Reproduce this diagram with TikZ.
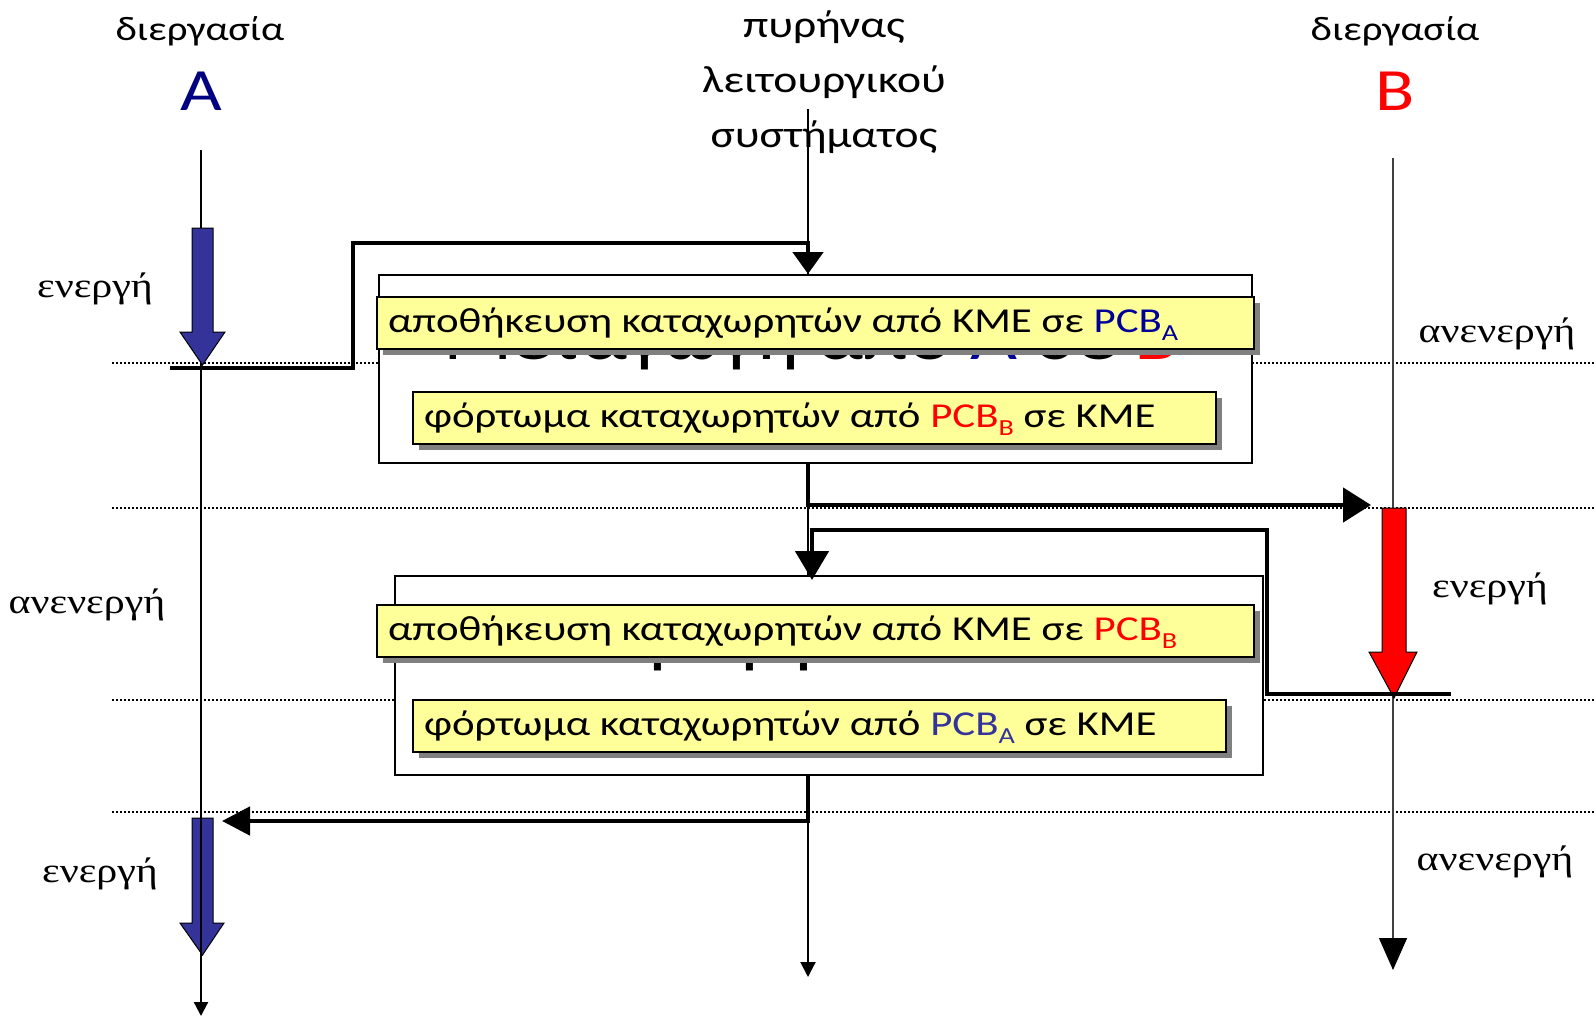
\documentclass[tikz,border=0pt]{standalone}
\usepackage{fontspec}
\usepackage{graphicx}
\setmainfont{Carlito}
\newfontfamily\tnr{Liberation Serif}
\usetikzlibrary{arrows.meta,shadows}
\definecolor{ylw}{HTML}{FFFF99}
\definecolor{navyA}{HTML}{000099}
\definecolor{hdrA}{HTML}{000080}
\definecolor{pcbAlt}{HTML}{333399}
\definecolor{arrblue}{HTML}{333399}
\definecolor{shgray}{HTML}{808080}
\definecolor{bline}{HTML}{404040}
\newcommand{\hs}[1]{\scalebox{1.2}[1]{#1}}
\newcommand{\hsb}[1]{\scalebox{1.225}[1]{#1}}
\newcommand{\hsh}[1]{\scalebox{1.25}[1]{#1}}
\newcommand{\mysub}[1]{\raisebox{-4pt}{\fontsize{11.5pt}{12pt}\selectfont #1}}
\tikzset{
  hdr/.style={font=\fontsize{17pt}{20pt}\selectfont, inner sep=0pt, anchor=base},
  khdr/.style={font=\fontsize{19pt}{22pt}\selectfont, inner sep=0pt, anchor=base},
  bigl/.style={font=\fontsize{30pt}{36pt}\selectfont, inner sep=0pt, anchor=base},
  lbl/.style={font=\tnr\fontsize{17.5pt}{20pt}\selectfont, inner sep=0pt, anchor=base},
  tl/.style={line width=1.1pt},
  dots/.style={line width=0.6pt, dash pattern=on 0.8pt off 1.2pt},
  outerbox/.style={draw, fill=white, line width=0.9pt, inner sep=0pt, anchor=north west},
  ybox/.style={draw, fill=ylw, line width=1.1pt, inner xsep=5.5pt, inner ysep=0pt,
    text height=17.5pt, text depth=8.5pt, anchor=north west,
    font=\fontsize{17.5pt}{20pt}\selectfont,
    drop shadow={shadow xshift=3pt, shadow yshift=-3pt, fill=shgray, opacity=1}},
  hid/.style={font=\fontsize{32.5pt}{36pt}\selectfont, inner sep=0pt, anchor=base},
  conn/.style={line width=2.4pt},
  blockarr/.style={draw=black, line width=0.5pt}
}
\begin{document}
\begin{tikzpicture}[x=0.5pt,y=-0.5pt]
\useasboundingbox (0,0) rectangle (1594,1017);

% headers
\node[hdr] (hA) at (200,40) {\hs{διεργασία}};
\node[bigl, text=hdrA] (lA) at (201,110) {\hs{A}};
\node[khdr] (hK1) at (824,37) {\hs{πυρήνας}};
\node[khdr] (hK2) at (824,92) {\hs{λειτουργικού}};
\node[khdr] (hK3) at (824,147) {\hs{συστήματος}};
\node[hdr] (hB) at (1395,40) {\hs{διεργασία}};
\node[bigl, text=red] (lB) at (1395,110) {\hs{B}};

% state labels
\node[lbl] (s1) at (95,297) {\hs{ενεργή}};
\node[lbl] (s2) at (87,613) {\hs{ανενεργή}};
\node[lbl] (s3) at (100,882) {\hs{ενεργή}};
\node[lbl] (s4) at (1497,342) {\hs{ανενεργή}};
\node[lbl] (s5) at (1490,597) {\hs{ενεργή}};
\node[lbl] (s6) at (1495,870) {\hs{ανενεργή}};

% dotted level lines
\coordinate (dl1) at (112,363); \coordinate (dr1) at (1594,363);
\coordinate (dl2) at (112,508); \coordinate (dr2) at (1594,508);
\coordinate (dl3) at (112,700); \coordinate (dr3) at (1594,700);
\coordinate (dl4) at (112,812); \coordinate (dr4) at (1594,812);
\draw[dots] (dl1) -- (dr1);
\draw[dots] (dl2) -- (dr2);
\draw[dots] (dl3) -- (dr3);
\draw[dots] (dl4) -- (dr4);

% second blue block arrow (under the timeline)
\filldraw[blockarr, fill=arrblue] (192,818) -- (213,818) -- (213,923) -- (224,923) -- (202.5,955) -- (180,923) -- (192,923) -- cycle;

% timelines
\coordinate (Atop) at (201,150); \coordinate (Abot) at (201,1016);
\coordinate (Ktop) at (808,109); \coordinate (Kbot) at (808,977);
\coordinate (Btop) at (1393,158); \coordinate (Bbot) at (1393,970);
\draw[tl, -{Triangle[length=7pt,width=7pt]}] (Atop) -- (Abot);
\draw[line width=1pt, -{Triangle[length=7.5pt,width=7.5pt]}] (Ktop) -- (Kbot);
\draw[line width=0.7pt, draw=bline, -{Triangle[length=16pt,width=14pt,black]}] (Btop) -- (Bbot);

% first blue block arrow and red block arrow
\filldraw[blockarr, fill=arrblue] (192,228) -- (213,228) -- (213,332) -- (225,332) -- (202.5,365) -- (180,332) -- (192,332) -- cycle;
\filldraw[blockarr, fill=red] (1382,508) -- (1406,508) -- (1406,652) -- (1417,652) -- (1394,698) -- (1369,652) -- (1382,652) -- cycle;

% outer kernel boxes
\node[outerbox, minimum width=436.5pt, minimum height=94pt] (K1) at (378,274) {};
\node[hid] (H1) at (811,359) {\hsh{Μεταγωγή από \textcolor{navyA}{A} σε \textcolor{red}{B}}};
\node[outerbox, minimum width=434pt, minimum height=99.5pt] (K2) at (394,575) {};
\node[hid] (H2) at (824,660) {\hsh{Μεταγωγή από \textcolor{red}{B} σε \textcolor{navyA}{A}}};

% yellow boxes
\node[ybox] (Y1) at (376,296) {\makebox[427.5pt][l]{\hsb{αποθήκευση καταχωρητών από ΚΜΕ σε \textcolor{navyA}{PCB\mysub{A}}}}};
\node[ybox] (Y2) at (412,391) {\makebox[390.5pt][l]{\hsb{φόρτωμα καταχωρητών από \textcolor{red}{PCB\mysub{B}} σε ΚΜΕ}}};
\node[ybox] (Y3) at (376,604) {\makebox[427.5pt][l]{\hsb{αποθήκευση καταχωρητών από ΚΜΕ σε \textcolor{red}{PCB\mysub{B}}}}};
\node[ybox] (Y4) at (412,699) {\makebox[395.5pt][l]{\hsb{φόρτωμα καταχωρητών από \textcolor{pcbAlt}{PCB\mysub{A}} σε ΚΜΕ}}};

% connectors
\coordinate (a0) at (170,368); \coordinate (a1) at (353,368);
\coordinate (a2) at (353,243); \coordinate (k1) at (808,243);
\draw[conn, -{Triangle[length=11pt,width=15pt]}] (a0) -- (a1) -- (a2) -- (k1) -- (k1 |- K1.north);

\coordinate (b1) at (808,505); \coordinate (bt) at (1371,505);
\draw[conn, -{Triangle[length=14pt,width=17pt]}] (K1.south -| b1) -- (b1) -- (bt);

\coordinate (c0) at (1451,694); \coordinate (c1) at (1267,694);
\coordinate (c2) at (1267,530); \coordinate (c3) at (812,530);
\coordinate (c4) at (812,580);
\draw[conn, -{Triangle[length=14.5pt,width=16.5pt]}] (c0) -- (c1) -- (c2) -- (c3) -- (c4);

\coordinate (d1) at (808,821); \coordinate (dt) at (222,821);
\draw[conn, -{Triangle[length=14pt,width=14pt]}] (K2.south -| d1) -- (d1) -- (dt);
\end{tikzpicture}
\end{document}
